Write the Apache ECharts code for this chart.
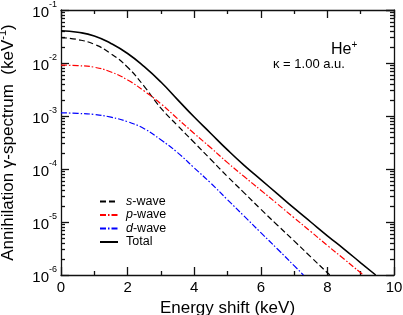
<!DOCTYPE html>
<html><head><meta charset="utf-8">
<script src="https://cdn.jsdelivr.net/npm/echarts@6/dist/echarts.min.js"></script>
<style>html,body{margin:0;padding:0;background:#fff}#c{width:403px;height:315px}</style>
</head><body><div id="c"></div>
<script>
// Data (energy in keV, spectrum in keV^-1)
const sWaveE = [0,0.5,1,1.5,2,2.5,3,3.5,4,4.5,5,5.5,6,6.5,7,7.5,8,8.07];
const sWaveV = [0.0302,0.0277,0.0225,0.0150,0.00832,0.00362,0.00141,6.6e-4,3.16e-4,1.51e-4,7.2e-5,3.55e-5,1.74e-5,8.7e-6,4.4e-6,2.2e-6,1.1e-6,1.0e-6];
const pWaveE = [0,0.5,1,1.5,2,2.5,3,3.5,4,4.5,5,5.5,6,6.5,7,7.5,8,8.5,9,9.08];
const pWaveV = [0.00912,0.00891,0.00832,0.00676,0.00479,0.00295,0.0017,8.9e-4,4.68e-4,2.51e-4,1.32e-4,7.2e-5,3.98e-5,2.19e-5,1.2e-5,6.6e-6,3.6e-6,2.0e-6,1.1e-6,1.0e-6];
const dWaveE = [0,0.5,1,1.5,2,2.5,3,3.5,4,4.5,5,5.5,6,6.5,7,7.28];
const dWaveV = [0.00115,0.00112,0.00107,9.5e-4,7.8e-4,5.75e-4,3.55e-4,2.04e-4,1.05e-4,5.4e-5,2.63e-5,1.29e-5,6.3e-6,3.1e-6,1.5e-6,1.0e-6];
const totalE = [0,0.5,1,1.5,2,2.5,3,3.5,4,4.5,5,5.5,6,6.5,7,7.5,8,8.5,9,9.45];
const totalV = [0.0407,0.0380,0.0324,0.0234,0.0151,0.00851,0.00437,0.00204,9.55e-4,4.68e-4,2.29e-4,1.17e-4,6.31e-5,3.39e-5,1.82e-5,1.0e-5,5.5e-6,3.09e-6,1.70e-6,1.0e-6];
const xTicks = [0,2,4,6,8,10];
const yDecades = [-6,-5,-4,-3,-2,-1];

const FONT = '"Liberation Sans", Arial, Helvetica, sans-serif';
const pairs = (xs, ys) => xs.map((x, i) => [x, ys[i]]);
const minorVals = [];
for (let k = yDecades[0]; k < yDecades[yDecades.length - 1]; k++) {
  for (let m = 2; m <= 9; m++) minorVals.push(m * Math.pow(10, k));
}
const AX = { color: '#111', width: 1.3 };

const chart = echarts.init(document.getElementById('c'), null, { renderer: 'canvas' });
const logY = (extra) => Object.assign({
  type: 'log', logBase: 10,
  min: Math.pow(10, yDecades[0]), max: Math.pow(10, yDecades[yDecades.length - 1]),
  splitLine: { show: false }, minorSplitLine: { show: false },
  axisLine: { show: true, lineStyle: AX }
}, extra);
const lineSeries = (name, xs, ys, color, width, type) => ({
  name, type: 'line', data: pairs(xs, ys), smooth: 0.5,
  symbol: 'none', lineStyle: { color, width, type }, itemStyle: { color }
});

chart.setOption({
  animation: false,
  grid: { left: 61, right: 9, top: 10, bottom: 40, containLabel: false, outerBoundsMode: 'none' },
  xAxis: [
    {
      type: 'value', min: xTicks[0], max: xTicks[xTicks.length - 1], interval: 2,
      position: 'bottom',
      axisLine: { lineStyle: AX },
      axisTick: { inside: true, length: 8, lineStyle: AX },
      minorTick: { show: true, splitNumber: 2, length: 4, lineStyle: AX },
      splitLine: { show: false },
      axisLabel: { color: '#000', fontSize: 15, fontFamily: FONT, margin: 5 },
      name: 'Energy shift (keV)', nameLocation: 'middle', nameGap: 23,
      nameTextStyle: { color: '#000', fontSize: 17, fontFamily: FONT, verticalAlign: 'top' }
    },
    {
      type: 'value', min: xTicks[0], max: xTicks[xTicks.length - 1], interval: 2,
      position: 'top',
      axisLine: { lineStyle: AX },
      axisTick: { inside: true, length: 8, lineStyle: AX },
      minorTick: { show: true, splitNumber: 2, length: 4, lineStyle: AX },
      splitLine: { show: false },
      axisLabel: { show: false }
    }
  ],
  yAxis: [
    logY({
      position: 'left',
      axisTick: { inside: true, length: 8, lineStyle: AX },
      axisLabel: {
        color: '#000', fontFamily: FONT, margin: 4, showMinLabel: true, showMaxLabel: true,
        formatter: v => '{b|10}{s|' + Math.round(Math.log10(v)) + '}',
        rich: {
          b: { fontSize: 15, fontFamily: FONT, color: '#000', lineHeight: 20, verticalAlign: 'bottom' },
          s: { fontSize: 9, fontFamily: FONT, color: '#000', lineHeight: 20, verticalAlign: 'top' }
        }
      },
      name: 'Annihilation \u03b3-spectrum  (keV{s|-1})', nameLocation: 'middle', nameGap: 42,
      nameTextStyle: {
        color: '#000', fontSize: 17, fontFamily: FONT,
        rich: { s: { fontSize: 11, fontFamily: FONT, color: '#000', verticalAlign: 'top', lineHeight: 22 } }
      }
    }),
    logY({
      position: 'left', axisLine: { show: false },
      axisTick: { inside: true, length: 4, lineStyle: AX, customValues: minorVals },
      axisLabel: { show: false }
    }),
    logY({
      position: 'right',
      axisTick: { inside: true, length: 8, lineStyle: AX },
      axisLabel: { show: false }
    }),
    logY({
      position: 'right', axisLine: { show: false },
      axisTick: { inside: true, length: 4, lineStyle: AX, customValues: minorVals },
      axisLabel: { show: false }
    })
  ],
  legend: {
    orient: 'vertical', left: 94, top: 190, itemWidth: 18, itemHeight: 10, itemGap: 0.5,
    itemStyle: { opacity: 0 },
    data: ['s-wave', 'p-wave', 'd-wave', 'Total'],
    formatter: n => n === 'Total' ? 'Total' : '{i|' + n[0] + '}-wave',
    textStyle: {
      color: '#000', fontSize: 12.5, fontFamily: FONT, padding: [0, 0, 0, 3],
      rich: { i: { fontStyle: 'italic', fontSize: 12.5, fontFamily: FONT, color: '#000' } }
    }
  },
  graphic: [
    { type: 'text', left: 331, top: 40,
      style: { text: 'He{s|+}', font: '16px ' + FONT, fill: '#000',
        rich: { s: { fontSize: 10, fontFamily: FONT, fill: '#000', verticalAlign: 'top', lineHeight: 20 } } } },
    { type: 'text', left: 273, top: 58,
      style: { text: '\u03ba = 1.00 a.u.', font: '13px ' + FONT, fill: '#000' } }
  ],
  series: [
    lineSeries('s-wave', sWaveE, sWaveV, '#000', 1.2, [6, 3]),
    lineSeries('p-wave', pWaveE, pWaveV, '#ff0000', 1.2, [6, 2, 1.5, 2]),
    lineSeries('d-wave', dWaveE, dWaveV, '#0000ff', 1.2, [6, 2, 1.5, 2]),
    lineSeries('Total', totalE, totalV, '#000', 1.6, 'solid')
  ]
});
</script></body></html>
